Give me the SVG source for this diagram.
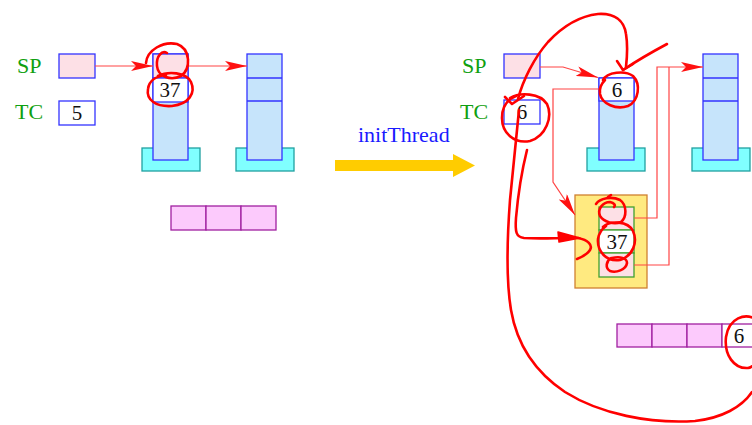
<svg xmlns="http://www.w3.org/2000/svg" width="752" height="425" viewBox="0 0 752 425">
  <style>
    .lbl { font-family: "Liberation Serif", "Times New Roman", serif; font-size: 22px; fill: #10a010; }
    .num { font-family: "Liberation Serif", "Times New Roman", serif; font-size: 21px; fill: #111; text-anchor: middle; }
    .op  { font-family: "Liberation Serif", "Times New Roman", serif; font-size: 22px; fill: #1a1aff; }
    .blue { fill: #c6e4fb; stroke: #3333ff; stroke-width: 1.3; }
    .pinkb { fill: #fde0e6; stroke: #3333ff; stroke-width: 1.3; }
    .whiteb { fill: #ffffff; stroke: #3333ff; stroke-width: 1.3; }
    .base { fill: #80ffff; stroke: #20a0a0; stroke-width: 1.3; }
    .heap { fill: #fccafc; stroke: #a020a0; stroke-width: 1.3; }
    .frame { fill: #ffea80; stroke: #d08030; stroke-width: 1.3; }
    .gpink { fill: #fde0e6; stroke: #40a030; stroke-width: 1.3; }
    .gwhite { fill: #ffffff; stroke: #40a030; stroke-width: 1.3; }
    .link { fill: none; stroke: #ff4444; stroke-width: 1.2; }
    .ink { fill: none; stroke: #ff0000; stroke-width: 2.6; stroke-linecap: round; stroke-linejoin: round; }
  </style>
  <defs>
    <marker id="head" viewBox="0 0 22 10" refX="22" refY="5" markerWidth="22" markerHeight="10" markerUnits="userSpaceOnUse" orient="auto">
      <path d="M0,0 L22,5 L0,10 L5,5 Z" fill="#ff1010"/>
    </marker>
  </defs>

  <!-- ===== state before initThread ===== -->
  <g id="sp-left">
    <text class="lbl" x="17" y="73">SP</text>
    <rect class="pinkb" x="59" y="54" width="36" height="24"/>
  </g>
  <g id="tc-left">
    <text class="lbl" x="15" y="119">TC</text>
    <rect class="whiteb" x="59" y="101" width="36" height="24"/>
    <text class="num" x="77" y="120">5</text>
  </g>
  <g id="stack-a">
    <rect class="base" x="142" y="148" width="58" height="23"/>
    <rect class="blue" x="153" y="54" width="35" height="106"/>
    <rect class="pinkb" x="153" y="54" width="35" height="24"/>
    <rect class="whiteb" x="153" y="78" width="35" height="24"/>
    <text class="num" x="170" y="97">37</text>
  </g>
  <g id="stack-b">
    <rect class="base" x="236" y="148" width="58" height="23"/>
    <rect class="blue" x="247" y="54" width="35" height="106"/>
    <line class="blue" x1="247" y1="78" x2="282" y2="78"/>
    <line class="blue" x1="247" y1="101" x2="282" y2="101"/>
  </g>
  <g id="heap-left">
    <rect class="heap" x="171" y="206" width="35" height="24"/>
    <rect class="heap" x="206" y="206" width="35" height="24"/>
    <rect class="heap" x="241" y="206" width="35" height="24"/>
  </g>

  <!-- ===== transition ===== -->
  <g id="transition">
    <text class="op" x="358" y="142">initThread</text>
    <path d="M335,160 L453,160 L453,154 L475,165.5 L453,177 L453,171 L335,171 Z" fill="#ffcc00"/>
  </g>

  <!-- ===== state after initThread ===== -->
  <g id="sp-right">
    <text class="lbl" x="462" y="73">SP</text>
    <rect class="pinkb" x="504" y="54" width="36" height="24"/>
  </g>
  <g id="tc-right">
    <text class="lbl" x="460" y="119">TC</text>
    <rect class="whiteb" x="504" y="100" width="36" height="24"/>
    <text class="num" x="522" y="119">6</text>
  </g>
  <g id="stack-c">
    <rect class="base" x="587" y="148" width="58" height="23"/>
    <rect class="blue" x="599" y="78" width="35" height="82"/>
    <rect class="whiteb" x="599" y="78" width="35" height="23"/>
    <text class="num" x="617" y="97">6</text>
  </g>
  <g id="stack-d">
    <rect class="base" x="692" y="148" width="58" height="23"/>
    <rect class="blue" x="703" y="54" width="35" height="106"/>
    <line class="blue" x1="703" y1="78" x2="738" y2="78"/>
    <line class="blue" x1="703" y1="101" x2="738" y2="101"/>
  </g>
  <g id="frame">
    <rect class="frame" x="575" y="195" width="72" height="93"/>
    <rect class="gpink" x="599" y="207" width="35" height="23"/>
    <rect class="gwhite" x="599" y="230" width="35" height="23"/>
    <rect class="gpink" x="599" y="253" width="35" height="24"/>
    <text class="num" x="617" y="249">37</text>
  </g>
  <g id="heap-right">
    <rect class="heap" x="617" y="324" width="35" height="23"/>
    <rect class="heap" x="652" y="324" width="35" height="23"/>
    <rect class="heap" x="687" y="324" width="35" height="23"/>
    <rect x="722" y="324" width="40" height="23" fill="#ffffff" stroke="#a020a0" stroke-width="1.3"/>
    <text class="num" x="739" y="343">6</text>
  </g>

  <!-- ===== pointers ===== -->
  <g id="connectors">
    <path class="link" d="M95,66 L153,66" marker-end="url(#head)"/>
    <path class="link" d="M188,66 L247,66" marker-end="url(#head)"/>
    <path class="link" d="M540,67 L563,67 L598,77.5" marker-end="url(#head)"/>
    <path class="link" d="M599,89 L553,89 L553,182 L575,215" marker-end="url(#head)"/>
    <path class="link" d="M634,218 L657,218 L657,67 L703,67" marker-end="url(#head)"/>
    <path class="link" d="M634,265 L669,265 L669,67"/>
  </g>

  <!-- ===== hand-drawn marks ===== -->
  <g id="marks">
    <!-- left stack: loop on the top cell and ring round 37 -->
    <path class="ink" d="M146,63 C147,50 163,41 177,44 C191,49 191,69 181,76 C171,81 158,77 157,66 C156,56 162,50 167,53"/>
    <path class="ink" d="M158,76 C168,71 186,72 191,82 C196,93 189,104 172,106 C156,107 146,100 148,89 C149,81 156,76 166,75"/>

    <!-- arc from the new stack cell back to TC -->
    <path class="ink" d="M518,99 C523,80 534,58 548,42 C562,27 580,16 598,14 C614,13 624,20 626,34 C628,46 627,58 626,67"/>
    <path class="ink" d="M505,97 L512,104 L524,96"/>
    <path class="ink" d="M617,61 L623,70 L633,64"/>
    <path class="ink" d="M667,44 C652,52 635,62 623,70"/>
    <!-- rings round the two 6 values -->
    <path class="ink" d="M510,98 C520,92 540,93 547,104 C553,117 546,136 530,141 C514,144 502,133 502,118 C502,106 508,99 516,96"/>
    <path class="ink" d="M603,80 C607,72 625,70 633,76 C641,84 639,101 628,106 C616,110 602,104 600,94 C599,88 601,84 605,80"/>

    <!-- long loop from TC down and round to the heap entry -->
    <path class="ink" d="M519,110 C516,140 513,170 510,200 C507,240 506,280 511,310 C517,345 535,372 565,392 C600,414 650,424 695,421 C722,418 742,407 752,392"/>
    <path class="ink" d="M757,320 C745,312 729,318 726,337 C724,355 734,369 748,368 C754,367 758,361 761,356"/>

    <!-- second stroke from TC into the frame, ending in a hook -->
    <path class="ink" d="M527,150 C522,170 518,195 516,218 C515,232 516,237 524,238 C540,239 555,238 570,238"/>
    <path d="M558,232 L580,238 L559,242 Z" fill="#ff0000" stroke="#ff0000" stroke-width="1.5" stroke-linejoin="round"/>
    <path class="ink" d="M578,238 C588,240 593,245 590,250 C587,255 582,257 577,259"/>

    <!-- marks on the new frame -->
    <path class="ink" d="M596,204 C600,198 612,196 620,200 C627,205 627,217 621,222 C614,225 604,222 600,216 C597,209 603,202 610,202 C614,203 616,205 614,207"/>
    <path class="ink" d="M608,197 L611,195"/>
    <path class="ink" d="M603,227 C610,220 628,221 633,231 C638,242 633,256 620,260 C606,262 597,251 598,239 C599,232 602,229 606,226"/>
    <path class="ink" d="M611,258 C606,261 605,268 610,271 C616,273 626,270 627,263 C627,258 620,256 612,258"/>
  </g>
</svg>
